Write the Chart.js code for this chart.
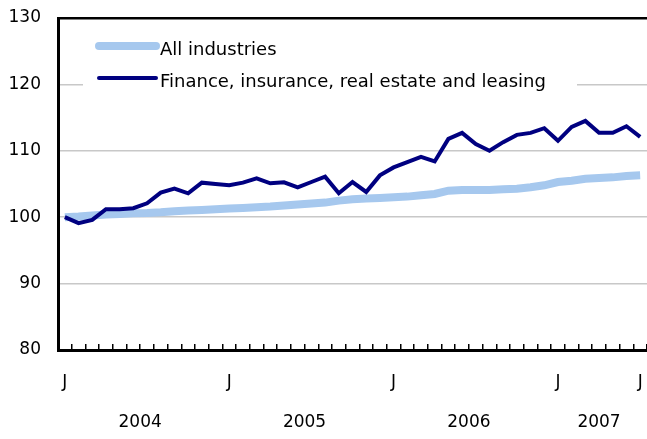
<!DOCTYPE html>
<html lang="en">
<head>
    <meta charset="UTF-8">
    <title>All industries vs. finance, insurance, real estate and leasing</title>
    <style>
        body { margin: 0; background: #fff; }
        canvas { display: block; }
    </style>
    <script src="https://cdn.jsdelivr.net/npm/chart.js"></script>
</head>
<body>
    <canvas id="chart" width="647" height="439"></canvas>

    <script>
        // Monthly index, January 2004 = 100 (Jan 2004 - Jul 2007)
        const years = ['2004', '2005', '2006', '2007'];
        const monthInitials = ['J', 'F', 'M', 'A', 'M', 'J', 'J', 'A', 'S', 'O', 'N', 'D'];

        const allIndustries = [
            100.0, 100.1, 100.25, 100.4, 100.5, 100.6, 100.65, 100.75, 100.9, 101.0, 101.1, 101.2,
            101.3, 101.4, 101.5, 101.6, 101.75, 101.9, 102.05, 102.2, 102.5, 102.7, 102.8, 102.9,
            103.0, 103.1, 103.3, 103.5, 104.0, 104.1, 104.1, 104.1, 104.2, 104.3, 104.5, 104.8,
            105.3, 105.5, 105.8, 105.9, 106.0, 106.2, 106.3
        ];
        const finance = [
            100.0, 99.1, 99.6, 101.2, 101.2, 101.35, 102.1, 103.7, 104.3, 103.6, 105.2, 105.0,
            104.8, 105.2, 105.85, 105.1, 105.25, 104.5, 105.3, 106.1, 103.6, 105.3, 103.8, 106.3,
            107.5, 108.3, 109.1, 108.4, 111.8, 112.7, 111.0, 110.0, 111.3, 112.4, 112.7, 113.4,
            111.5, 113.6, 114.5, 112.7, 112.7, 113.7, 112.1
        ];

        const yTicks = [80, 90, 100, 110, 120, 130];
        const seriesNames = ['All industries', 'Finance, insurance, real estate and leasing'];
        const seriesColors = ['#a6c8ee', '#000080'];
        const seriesWidths = [8, 4];

        // one label per month, with the year it belongs to
        const months = allIndustries.map((_, i) => monthInitials[i % 12]);
        const monthYear = allIndustries.map((_, i) => years[Math.floor(i / 12)]);
        // year labels sit at the middle of their months
        const yearCenters = years.map(y => {
            const idx = monthYear.map((v, i) => v === y ? i : -1).filter(i => i >= 0);
            return (idx[0] + idx[idx.length - 1]) / 2;
        });

        const FONT = 'DejaVu Sans';

        // no extra room for overflowing labels, the plot fills the canvas
        const noPad = axis => {
            axis.paddingLeft = 0;
            axis.paddingRight = 0;
            axis.paddingTop = 0;
            axis.paddingBottom = 0;
        };

        // legend drawn inside the plot, on a white box
        const insideLegend = {
            id: 'insideLegend',
            afterDraw(chart) {
                const ctx = chart.ctx;
                const a = chart.chartArea;
                ctx.save();
                ctx.fillStyle = '#fff';
                ctx.fillRect(a.left + 25, a.top + 10, 494, 64);
                const rows = [a.top + 28, a.top + 60];
                chart.data.datasets.forEach((ds, i) => {
                    ctx.beginPath();
                    ctx.lineCap = 'round';
                    ctx.lineWidth = ds.borderWidth;
                    ctx.strokeStyle = ds.borderColor;
                    ctx.moveTo(a.left + 41, rows[i]);
                    ctx.lineTo(a.left + 98, rows[i]);
                    ctx.stroke();
                    ctx.fillStyle = '#000';
                    ctx.font = '18px "' + FONT + '"';
                    ctx.textBaseline = 'alphabetic';
                    ctx.textAlign = 'left';
                    ctx.fillText(ds.label, a.left + 102, rows[i] + 9);
                });
                ctx.restore();
            }
        };

        new Chart(document.getElementById('chart'), {
            type: 'line',
            data: {
                labels: months,
                datasets: [
                    {
                        label: seriesNames[0],
                        data: allIndustries,
                        borderColor: seriesColors[0],
                        borderWidth: seriesWidths[0],
                        pointRadius: 0,
                        tension: 0,
                        order: 1
                    },
                    {
                        label: seriesNames[1],
                        data: finance,
                        borderColor: seriesColors[1],
                        borderWidth: seriesWidths[1],
                        pointRadius: 0,
                        tension: 0,
                        order: 0
                    }
                ]
            },
            options: {
                responsive: false,
                animation: false,
                layout: { padding: { top: 18, right: 0, left: 0, bottom: 4 } },
                plugins: {
                    legend: { display: false },
                    tooltip: { enabled: false }
                },
                scales: {
                    x: {
                        type: 'category',
                        offset: true,
                        afterFit: axis => { noPad(axis); axis.height = 45; },
                        border: { color: '#000', width: 3 },
                        grid: {
                            offset: true,
                            drawOnChartArea: false,
                            tickLength: -6,
                            color: '#000',
                            lineWidth: 1.5
                        },
                        ticks: {
                            autoSkip: false,
                            maxRotation: 0,
                            padding: 28,
                            color: '#000',
                            font: { family: FONT, size: 17 },
                            callback: (v, i) => (i % 12 === 0 || i === months.length - 1) ? months[i] : ''
                        }
                    },
                    year: {
                        type: 'linear',
                        position: 'bottom',
                        min: -0.5,
                        max: months.length - 0.5,
                        afterFit: axis => { noPad(axis); axis.height = 40; },
                        grid: { display: false },
                        border: { display: false },
                        afterBuildTicks: axis => { axis.ticks = yearCenters.map(v => ({ value: v })); },
                        ticks: {
                            autoSkip: false,
                            maxRotation: 0,
                            padding: 9,
                            color: '#000',
                            font: { family: FONT, size: 17 },
                            callback: v => years[yearCenters.indexOf(v)]
                        }
                    },
                    y: {
                        min: yTicks[0],
                        max: yTicks[yTicks.length - 1],
                        afterBuildTicks: axis => { axis.ticks = yTicks.map(v => ({ value: v })); },
                        afterFit: axis => { noPad(axis); axis.width = 58; },
                        border: { color: '#000', width: 3 },
                        grid: {
                            drawTicks: false,
                            color: c => c.tick.value === 130 ? '#000' : '#c8c8c8',
                            lineWidth: c => c.tick.value === 130 ? 2.5 : 1.5
                        },
                        ticks: {
                            padding: 17,
                            color: '#000',
                            font: { family: FONT, size: 17 }
                        }
                    }
                }
            },
            plugins: [insideLegend]
        });
    </script>
</body>
</html>
